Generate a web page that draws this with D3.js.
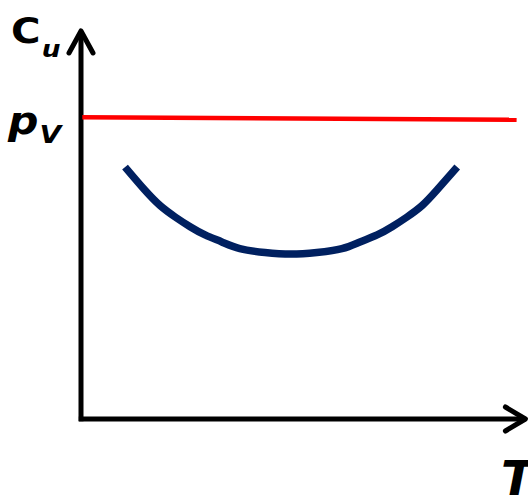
<!DOCTYPE html>
<html>
<head>
<meta charset="utf-8">
<script src="https://cdn.jsdelivr.net/npm/d3@7"></script>
<style>
  html, body { margin: 0; padding: 0; background: #fff; }
  svg { display: block; }
  text { font-family: "DejaVu Sans", Verdana, sans-serif; font-weight: bold; fill: #000; }
</style>
</head>
<body>
<svg id="chart" width="528" height="495"></svg>
<script>
// Temperature (T) and undrained strength (Cu) for the U-shaped curve
const curveT  = [10, 14.5, 18, 21.4, 24.8, 28.2, 32, 36.1, 41.8, 47.7, 53.6, 59.3, 63.4, 67.3, 70.7, 74.1, 77.5, 80.9, 85.5];
const curveCu = [64.6, 58.7, 54.7, 51.8, 49.3, 47.2, 45.4, 43.7, 42.7, 42.3, 42.7, 43.7, 45.4, 47.2, 49.3, 51.8, 54.7, 58.7, 64.6];

// Reference level pV (nearly flat line)
const pvT  = [0.3, 99];
const pvCu = [77.4, 76.7];

// Axis labels
const yLabel = { main: "C", sub: "u" };
const pvLabel = { main: "p", sub: "V" };
const xLabel = "T";

const svg = d3.select("#chart");

const x = d3.scaleLinear().domain([0, 100]).range([81, 521]);
const y = d3.scaleLinear().domain([0, 100]).range([419, 29]);

// Axes with arrowheads
const ax = svg.append("g").attr("stroke", "#000").attr("stroke-width", 5).attr("fill", "none");
ax.append("line")
  .attr("x1", x(0)).attr("y1", y(-0.6))
  .attr("x2", x(0)).attr("y2", y(99.5));
ax.append("line")
  .attr("x1", x(-0.5)).attr("y1", y(0))
  .attr("x2", x(101)).attr("y2", y(0));
ax.append("path")
  .attr("stroke-linecap", "round").attr("stroke-linejoin", "round")
  .attr("d", d3.line()([[x(0) - 12, y(99.5) + 22], [x(0), y(99.5)], [x(0) + 12, y(99.5) + 22]]));
ax.append("path")
  .attr("stroke-linecap", "round").attr("stroke-linejoin", "round")
  .attr("d", d3.line()([[x(101) - 20, y(0) - 12], [x(101), y(0)], [x(101) - 20, y(0) + 12]]));

// pV line
svg.append("path")
  .datum(pvT.map((t, i) => [t, pvCu[i]]))
  .attr("fill", "none")
  .attr("stroke", "#ff0000")
  .attr("stroke-width", 4.5)
  .attr("d", d3.line().x(d => x(d[0])).y(d => y(d[1])));

// U-shaped curve
svg.append("path")
  .datum(curveT.map((t, i) => [t, curveCu[i]]))
  .attr("fill", "none")
  .attr("stroke", "#002060")
  .attr("stroke-width", 7.5)
  .attr("stroke-linecap", "butt")
  .attr("d", d3.line().curve(d3.curveNatural).x(d => x(d[0])).y(d => y(d[1])));

// Labels
const cu = svg.append("text").attr("transform", "translate(11,43) scale(1.15,1)").attr("font-size", 35);
cu.append("tspan").text(yLabel.main);
cu.append("tspan").attr("font-size", 23).attr("font-style", "italic").attr("dx", 1).attr("dy", 14).text(yLabel.sub);

const pv = svg.append("text").attr("transform", "translate(8,134) scale(1.12,1)").attr("font-size", 38).attr("font-style", "italic");
pv.append("tspan").text(pvLabel.main);
pv.append("tspan").attr("font-size", 25).attr("dx", 1).attr("dy", 9).text(pvLabel.sub);

svg.append("text").attr("x", 501).attr("y", 495)
  .attr("font-size", 48).attr("font-style", "italic").text(xLabel);
</script>
</body>
</html>
